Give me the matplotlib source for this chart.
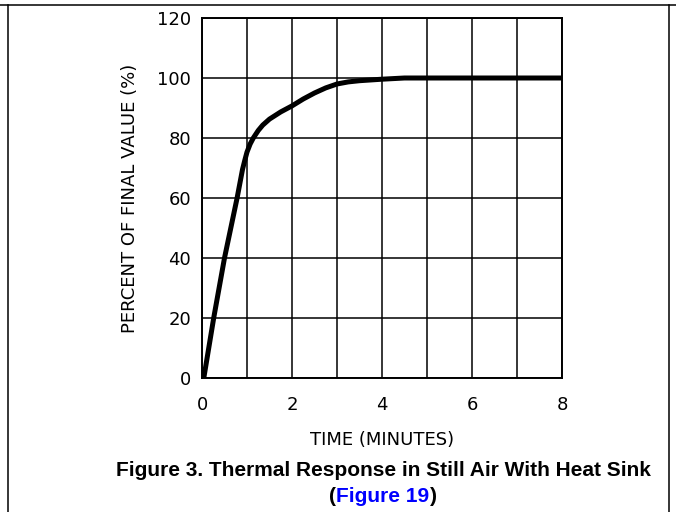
import matplotlib
matplotlib.use("Agg")
import matplotlib.pyplot as plt
from matplotlib.lines import Line2D

# curve
time_min = [0.04, 0.26, 0.5, 0.78, 0.9, 0.95, 1.0, 1.07, 1.14, 1.25, 1.35, 1.5, 1.75,
            2.0, 2.25, 2.5, 2.75, 3.0, 3.25, 3.5, 4.0, 4.5, 5.0, 6.0, 7.0, 8.0]
percent = [0, 20, 40, 60, 69.5, 72.5, 75.3, 78, 80, 82.5, 84.3, 86.3, 88.7,
           90.7, 93.0, 95.0, 96.7, 98.0, 98.7, 99.1, 99.6, 100, 100, 100, 100, 100]

x_ticks = [0, 2, 4, 6, 8]
x_grid = [1, 3, 5, 7]
y_ticks = [0, 20, 40, 60, 80, 100, 120]

cad_font = ["Liberation Sans Narrow", "DejaVu Sans"]

fig = plt.figure(figsize=(6.76, 5.12), dpi=100)
ax = fig.add_axes([202/676, 1-378/512, 360/676, 360/512])

ax.plot(time_min, percent, color="black", lw=3.6, solid_capstyle="butt",
        solid_joinstyle="round", zorder=3)

ax.set_xlim(0, 8)
ax.set_ylim(0, 120)
ax.set_xticks(x_ticks)
ax.set_xticks(x_grid, minor=True)
ax.set_yticks(y_ticks)
ax.grid(True, which="both", color="black", lw=1.1)
ax.tick_params(which="both", length=0)
ax.tick_params(axis="x", pad=13)
ax.tick_params(axis="y", pad=8)
for lab in ax.get_xticklabels() + ax.get_yticklabels():
    lab.set_family(cad_font)
    lab.set_fontsize(13)
for s in ax.spines.values():
    s.set_linewidth(1.4)

ax.set_ylabel("PERCENT OF FINAL VALUE (%)", family=cad_font, fontsize=13)
ax.yaxis.set_label_coords(-(202-139)/360, 0.5)
ax.set_xlabel("TIME (MINUTES)", family=cad_font, fontsize=13)
ax.xaxis.set_label_coords(0.5, -(431-378)/360)

# caption
xc = 383/676
fig.text(xc, 1-470/512, "Figure 3. Thermal Response in Still Air With Heat Sink",
         ha="center", va="center", family="Liberation Sans", fontweight="bold", fontsize=15)

fig.canvas.draw()
r = fig.canvas.get_renderer()
parts = [("(", "black"), ("Figure 19", "#0000ff"), (")", "black")]
tmp = [fig.text(0, 0, p, family="Liberation Sans", fontweight="bold", fontsize=15) for p, c in parts]
widths = [t.get_window_extent(r).width for t in tmp]
for t in tmp:
    t.remove()
x = xc * 676 - sum(widths) / 2
for (p, c), w in zip(parts, widths):
    fig.text(x / 676, 1-497/512, p, color=c, ha="left", va="center",
             family="Liberation Sans", fontweight="bold", fontsize=15)
    x += w

# page frame
fig.add_artist(Line2D([0, 1], [1-4.5/512, 1-4.5/512], color="black", lw=1.1))
fig.add_artist(Line2D([7.5/676, 7.5/676], [0, 1-4.5/512], color="black", lw=1.1))
fig.add_artist(Line2D([668.5/676, 668.5/676], [0, 1-4.5/512], color="black", lw=1.1))

fig.savefig("out.png", dpi=100)
